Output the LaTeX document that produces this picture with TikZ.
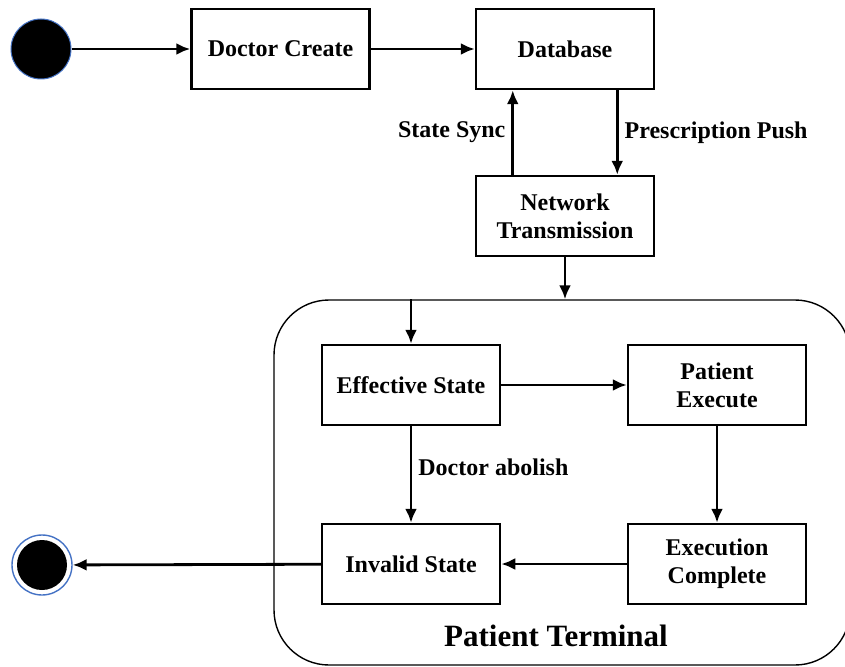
\documentclass[tikz,border=0pt]{standalone}
\usepackage{fontspec}
\setmainfont{Liberation Serif}
\usetikzlibrary{arrows.meta, calc, positioning}
\definecolor{ringblue}{RGB}{68,114,196}

\begin{document}
\begin{tikzpicture}[x=1pt,y=-1pt,node distance=284.5pt,>={Latex[length=14pt,width=12pt]},
  state/.style={draw,rectangle,line width=2.5pt,minimum width=178pt,minimum height=80pt,inner sep=1pt,align=center,font=\bfseries\fontsize{24}{28}\selectfont},
  lbl/.style={inner sep=0pt,font=\bfseries\fontsize{24}{28}\selectfont},
  flow/.style={->,line width=2.8pt}]
\useasboundingbox (0,0) rectangle (845,666);
\clip (0,0) rectangle (845,666);
\draw node [draw,rounded corners=55pt,line width=1.4pt,minimum width=576pt,minimum height=365pt] (PT) at (562,482.5) {};
\draw node [lbl,font=\bfseries\fontsize{31}{34}\selectfont] (PTname) at (556,636) {Patient Terminal};
\draw node [circle,draw=ringblue,fill=black,line width=1pt,inner sep=0pt,minimum size=60pt] (S) at (41,49) {};
\draw node [state] (DC) at (280.5,49) {Doctor Create};
\draw node [state] [right of=DC] (DB) {Database};
\draw node [state] (NT) at (565,216) {Network\\Transmission};
\draw node [state] (ES) at (411,385) {Effective State};
\draw node [state] [right of=ES,node distance=306pt] (PE) {Patient\\Execute};
\draw node [state] (IS) at (411,564) {Invalid State};
\draw node [state] [right of=IS,node distance=306pt] (EC) {Execution\\Complete};
\draw node [circle,draw=ringblue,line width=1.4pt,inner sep=0pt,minimum size=60pt] (E) at (42,565) {};
\draw node [circle,fill=black,inner sep=0pt,minimum size=50pt] (E0) at (E) {};
\draw [flow] (S) -- (DC);
\draw [flow] (DC) -- (DB);
\draw [flow] ($ (NT.north west) + (38,0) $) -- node [lbl,left=6pt] {State Sync} ($ (DB.south west) + (38,0) $);
\draw [flow] ($ (DB.south east) + (-38,0) $) -- node [lbl,right=6pt] {Prescription Push} ($ (NT.north east) + (-38,0) $);
\draw [flow] (NT) -- (NT |- PT.north);
\draw [flow] (ES |- PT.north) -- (ES);
\draw [flow] (ES) -- (PE);
\draw [flow] (ES) -- node [lbl,right=6pt,pos=.43] {Doctor abolish} (IS);
\draw [flow] (PE) -- (EC);
\draw [flow] (EC) -- (IS);
\draw [flow] (IS) -- (E);
\end{tikzpicture}
\end{document}
